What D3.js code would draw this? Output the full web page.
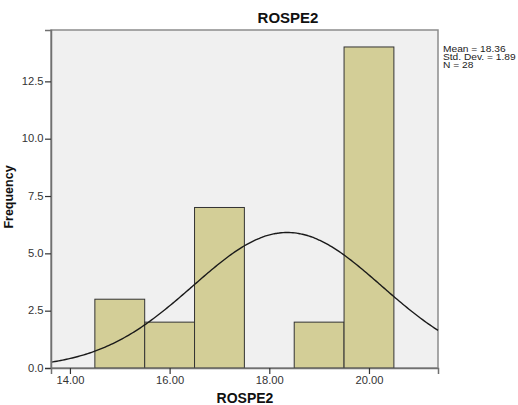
<!DOCTYPE html>
<html>
<head>
<meta charset="utf-8">
<script src="https://cdn.jsdelivr.net/npm/d3@7"></script>
<style>
  body { margin: 0; background: #fff; }
  svg { display: block; font-family: "Liberation Sans", Arial, sans-serif; }
</style>
</head>
<body>
<svg id="chart" width="518" height="405"></svg>
<script>
// ---- data ----
const binStarts = [14.5, 15.5, 16.5, 17.5, 18.5, 19.5];
const binEnds   = [15.5, 16.5, 17.5, 18.5, 19.5, 20.5];
const frequencies = [3, 2, 7, 0, 2, 14];
const xTicks = [14, 16, 18, 20];
const yTicks = [0, 2.5, 5, 7.5, 10, 12.5];
const statLines = ["Mean = 18.36", "Std. Dev. = 1.89", "N = 28"];
const mean = 18.36, sd = 1.89, n = 28, binWidth = 1;
const title = "ROSPE2", xLabel = "ROSPE2", yLabel = "Frequency";

// ---- layout ----
const svg = d3.select("#chart");
const L = 51, T = 30, R = 438, B = 368;
const x = d3.scaleLinear().domain([13.62, 21.385]).range([L, R]);
const y = d3.scaleLinear().domain([0, 14.74]).range([B, T]);
const SX = 1.12; // horizontal stretch of the reference's small text

// plot background
svg.append("rect").attr("x", L).attr("y", T).attr("width", R - L).attr("height", B - T)
  .attr("fill", "#f0f0f0").attr("stroke", "#8c8c8c").attr("stroke-width", 1.5);

// bars
const bars = binStarts.map((s, i) => ({ s, e: binEnds[i], f: frequencies[i] })).filter(d => d.f > 0);
svg.append("g").selectAll("rect").data(bars).join("rect")
  .attr("x", d => x(d.s)).attr("y", d => y(d.f))
  .attr("width", d => x(d.e) - x(d.s)).attr("height", d => y(0) - y(d.f))
  .attr("fill", "#d3ce97").attr("stroke", "#333").attr("stroke-width", 1);

// normal curve
const xs = d3.range(0, 201).map(i => 13.62 + (21.385 - 13.62) * i / 200);
const pdf = v => n * binWidth / (sd * Math.sqrt(2 * Math.PI)) * Math.exp(-0.5 * ((v - mean) / sd) ** 2);
svg.append("path").datum(xs)
  .attr("d", d3.line().x(v => x(v)).y(v => y(pdf(v))).curve(d3.curveBasis))
  .attr("fill", "none").attr("stroke", "#1a1a1a").attr("stroke-width", 1.4);

// axes
const yAxis = svg.append("g").attr("transform", `translate(${L},0)`)
  .call(d3.axisLeft(y).tickValues(yTicks).tickFormat(d3.format(".1f")).tickSize(6).tickPadding(1));
const xAxis = svg.append("g").attr("transform", `translate(0,${B})`)
  .call(d3.axisBottom(x).tickValues(xTicks).tickFormat(d3.format(".2f")).tickSize(6).tickPadding(3));
[yAxis, xAxis].forEach(a => {
  a.select(".domain").attr("stroke", "#707070").attr("stroke-width", 1.5);
  a.selectAll(".tick line").attr("stroke", "#333").attr("stroke-width", 1.2);
  a.selectAll(".tick text").attr("fill", "#333").attr("font-size", "10px")
    .attr("font-family", "'Liberation Sans', Arial, sans-serif");
});
xAxis.selectAll(".tick text").attr("transform", `scale(${SX},1)`);
yAxis.selectAll(".tick text").attr("x", -7.5 / SX).attr("transform", `scale(${SX},1)`);

// titles
svg.append("text").attr("x", 288).attr("y", 23).attr("text-anchor", "middle")
  .attr("font-size", "15px").attr("font-weight", "bold").attr("fill", "#111").text(title);
svg.append("text").attr("x", 245).attr("y", 403).attr("text-anchor", "middle")
  .attr("font-size", "14px").attr("font-weight", "bold").attr("fill", "#111").text(xLabel);
svg.append("text").attr("transform", "translate(13,197) rotate(-90)").attr("text-anchor", "middle")
  .attr("font-size", "12.5px").attr("font-weight", "bold").attr("fill", "#111").text(yLabel);

// stats
svg.append("g").selectAll("text").data(statLines).join("text")
  .attr("transform", (d, i) => `translate(443,${52 + i * 8}) scale(1.2,1)`)
  .attr("font-size", "8.5px").attr("fill", "#222").text(d => d);
</script>
</body>
</html>
